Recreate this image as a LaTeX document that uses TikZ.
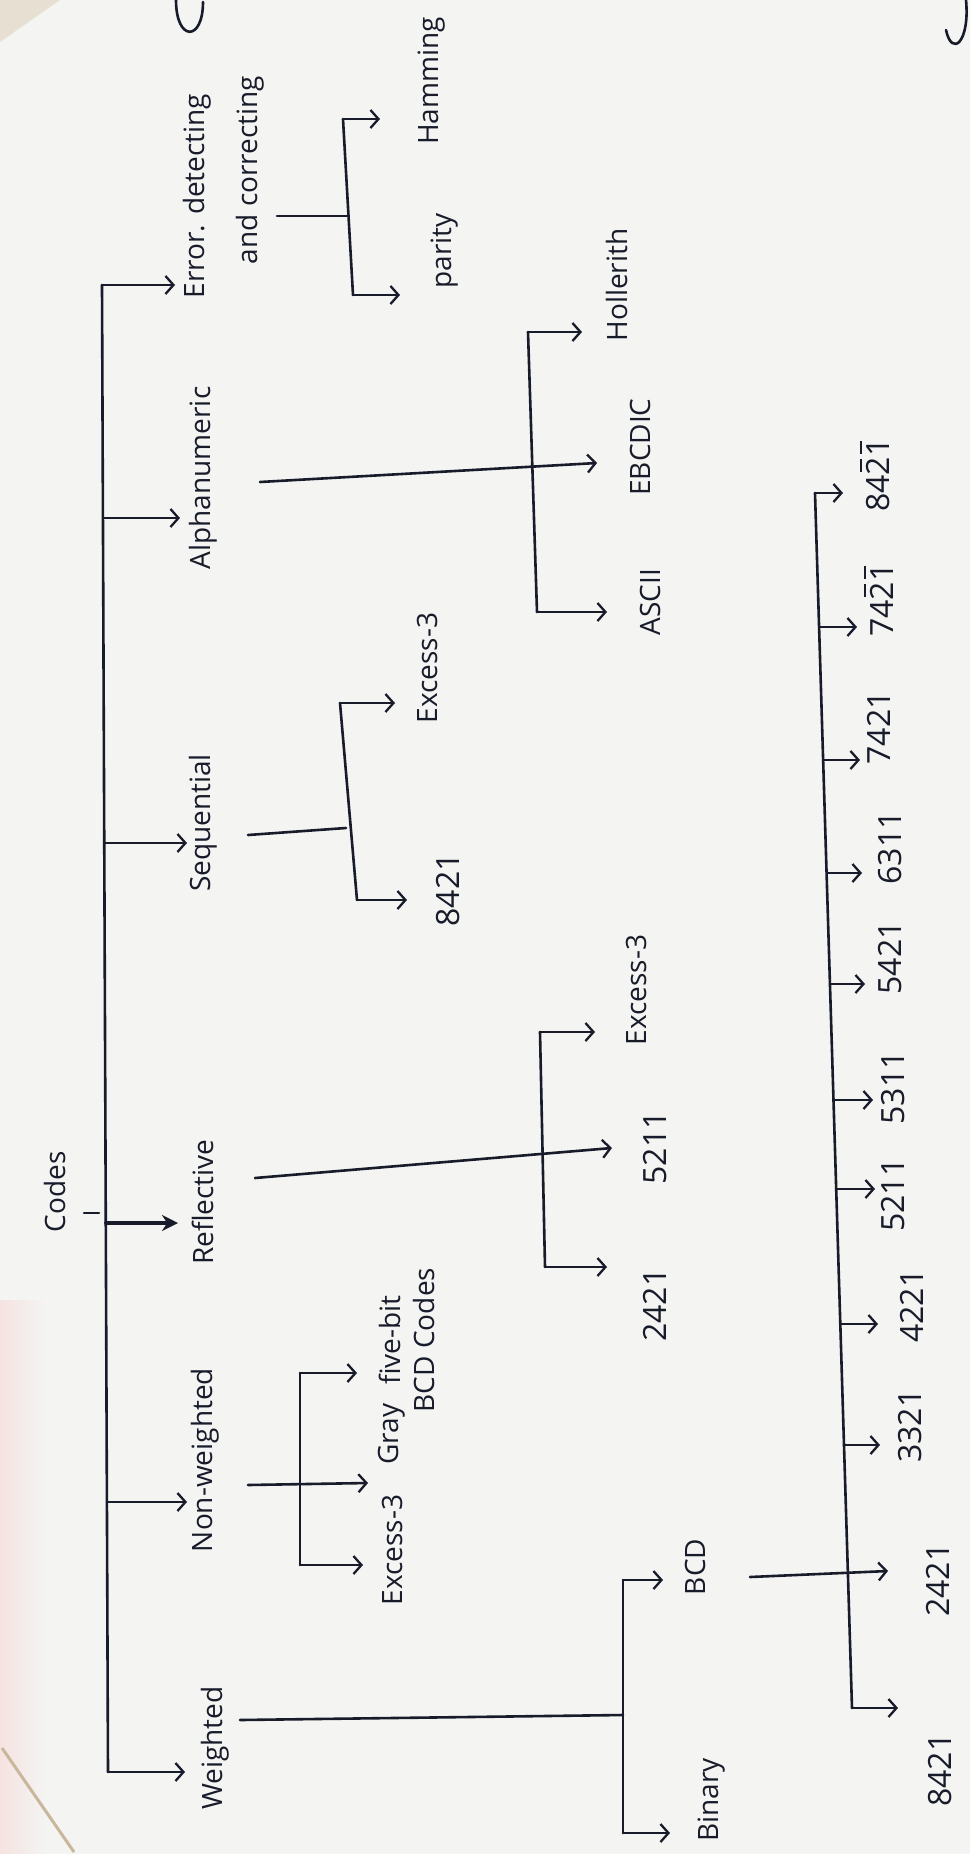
\documentclass[tikz,border=0pt]{standalone}
\usepackage{fontspec}
\setmainfont{Open Sans}
\usetikzlibrary{arrows.meta}
\definecolor{ink}{HTML}{181B2A}
\definecolor{paper}{HTML}{F4F4F2}
\definecolor{edge}{HTML}{C9B79C}
% a digit with a bar over it (negative weight)
\newcommand\negw[1]{\leavevmode\rlap{\kern0.09em\rule[0.86em]{0.4em}{1.8pt}}#1}
\begin{document}
\begin{tikzpicture}[x=1pt,y=-1pt,
  wire/.style={draw=ink,line width=2.6pt,line cap=round,line join=round},
  arr/.style={wire,-{Straight Barb[length=8pt,width=18pt,line width=2.3pt]}},
  boldarr/.style={draw=ink,line width=3.8pt,line cap=round,-{Stealth[length=16pt,width=16pt]}},
  lbl/.style={rotate=90,inner sep=0pt,text=ink,font=\fontsize{28}{34}\selectfont},
  num/.style={lbl,font=\fontsize{32}{36}\selectfont}]
% sheet of paper
\fill[paper] (0,0) rectangle (970,1854);
\useasboundingbox (0,0) rectangle (970,1854);
\fill[edge!45] (0,0) -- (60,0) -- (0,42) -- cycle;
\shade[left color=red!7!paper,right color=paper] (0,1300) rectangle (45,1854);
\draw[edge,line width=3pt] (2,1748) -- (74,1852);
% strokes of a line of writing cut off at the top edge
\draw[wire] (176,0) .. controls (176,42) and (203,42) .. (203,2);
\draw[wire] (966,0) .. controls (970,42) and (952,58) .. (946,30);

% ---------- main trunk ----------
\coordinate (jErr) at (102,285);
\coordinate (jAlp) at (103,518);
\coordinate (jSeq) at (104,843);
\coordinate (jRef) at (106,1223);
\coordinate (jNon) at (107,1502);
\coordinate (jWei) at (108,1772);
\draw[wire] (jErr) -- (jWei);

% root label and its tick
\node[lbl] (codes) at (55,1192) {Codes};
\coordinate (tkA) at (84,1213);
\coordinate (tkB) at (99,1213);
\draw[wire] (tkA) -- (tkB);

% first-level arrows
\coordinate (aErr) at (175,285);
\coordinate (aAlp) at (180,518);
\coordinate (aSeq) at (187,843);
\coordinate (aRef) at (178,1223);
\coordinate (aNon) at (187,1502);
\coordinate (aWei) at (185,1772);
\draw[arr] (jErr) -- (aErr);
\draw[arr] (jAlp) -- (aAlp);
\draw[arr] (jSeq) -- (aSeq);
\draw[boldarr] (jRef) -- (aRef);
\draw[arr] (jNon) -- (aNon);
\draw[arr] (jWei) -- (aWei);

% first-level labels
\node[lbl] (errA) at (197,196) {Error. detecting};
\node[lbl] (errB) at (250,170) {and correcting};
\node[lbl] (alpha) at (203,478) {Alphanumeric};
\node[lbl] (seq) at (203,823) {Sequential};
\node[lbl] (refl) at (203,1202) {Reflective};
\node[lbl] (nonw) at (205,1460) {Non-weighted};
\node[lbl] (wei) at (215,1748) {Weighted};

% ---------- error detecting and correcting ----------
\coordinate (eS) at (277,216);
\coordinate (eT) at (343,119);
\coordinate (eM) at (348,216);
\coordinate (eB) at (353,295);
\coordinate (aHam) at (380,119);
\coordinate (aPar) at (400,295);
\draw[wire] (eS) -- (eM);
\draw[wire] (eT) -- (eB);
\draw[arr] (eT) -- (aHam);
\draw[arr] (eB) -- (aPar);
\node[lbl] (ham) at (432,81) {Hamming};
\node[lbl] (par) at (445,251) {parity};

% ---------- alphanumeric ----------
\coordinate (lS) at (260,482);
\coordinate (lT) at (528,332);
\coordinate (lB) at (537,612);
\coordinate (aHol) at (582,332);
\coordinate (aEBC) at (597,463);
\coordinate (aASC) at (607,612);
\draw[wire] (lT) -- (lB);
\draw[arr] (lS) -- (aEBC);
\draw[arr] (lT) -- (aHol);
\draw[arr] (lB) -- (aASC);
\node[lbl] (hol) at (617,285) {Hollerith};
\node[lbl] (ebc) at (640,447) {EBCDIC};
\node[lbl] (asc) at (650,602) {ASCII};

% ---------- sequential ----------
\coordinate (sS) at (248,835);
\coordinate (sT) at (340,703);
\coordinate (sM) at (346,828);
\coordinate (sB) at (357,900);
\coordinate (aSx) at (395,703);
\coordinate (aS8) at (407,900);
\draw[wire] (sS) -- (sM);
\draw[wire] (sT) -- (sB);
\draw[arr] (sT) -- (aSx);
\draw[arr] (sB) -- (aS8);
\node[lbl] (seqx) at (427,668) {Excess-3};
\node[num] (seq8) at (448,890) {8421};

% ---------- reflective ----------
\coordinate (rS) at (255,1178);
\coordinate (rT) at (540,1032);
\coordinate (rB) at (545,1267);
\coordinate (aRx) at (595,1032);
\coordinate (aR5) at (612,1148);
\coordinate (aR2) at (607,1267);
\draw[wire] (rT) -- (rB);
\draw[arr] (rS) -- (aR5);
\draw[arr] (rT) -- (aRx);
\draw[arr] (rB) -- (aR2);
\node[lbl] (reflx) at (636,990) {Excess-3};
\node[num] (refl5) at (655,1148) {5211};
\node[num] (refl2) at (655,1305) {2421};

% ---------- non-weighted ----------
\coordinate (nS) at (248,1485);
\coordinate (nT) at (300,1373);
\coordinate (nB) at (300,1565);
\coordinate (aNf) at (357,1373);
\coordinate (aNg) at (368,1483);
\coordinate (aNx) at (363,1565);
\draw[wire] (nT) -- (nB);
\draw[arr] (nS) -- (aNg);
\draw[arr] (nT) -- (aNf);
\draw[arr] (nB) -- (aNx);
\node[lbl,align=center] (five) at (407,1340) {five-bit\\BCD Codes};
\node[lbl] (gray) at (392,1434) {Gray};
\node[lbl] (nonx) at (392,1550) {Excess-3};

% ---------- weighted ----------
\coordinate (wS) at (240,1720);
\coordinate (wT) at (623,1580);
\coordinate (wM) at (623,1715);
\coordinate (wB) at (623,1833);
\coordinate (aBCD) at (663,1580);
\coordinate (aBin) at (670,1833);
\draw[wire] (wS) -- (wM);
\draw[wire] (wT) -- (wB);
\draw[arr] (wT) -- (aBCD);
\draw[arr] (wB) -- (aBin);
\node[lbl] (bcd) at (695,1567) {BCD};
\node[lbl] (bin) at (712,1800) {Binary};

% ---------- BCD family ----------
\coordinate (b1) at (815,493);
\coordinate (b2) at (819,627);
\coordinate (b3) at (823,760);
\coordinate (b4) at (827,873);
\coordinate (b5) at (830,984);
\coordinate (b6) at (834,1100);
\coordinate (b7) at (836,1189);
\coordinate (b8) at (840,1324);
\coordinate (b9) at (844,1445);
\coordinate (b10) at (848,1572);
\coordinate (b11) at (852,1708);
\coordinate (bS) at (750,1577);
\draw[wire] (b1) -- (b11);
\coordinate (c1) at (843,493);
\coordinate (c2) at (857,627);
\coordinate (c3) at (860,760);
\coordinate (c4) at (862,873);
\coordinate (c5) at (865,984);
\coordinate (c6) at (873,1100);
\coordinate (c7) at (875,1189);
\coordinate (c8) at (878,1324);
\coordinate (c9) at (880,1445);
\coordinate (c10) at (888,1571);
\coordinate (c11) at (898,1708);
\draw[arr] (bS) -- (c10);
\foreach \i in {1,...,9,11} \draw[arr] (b\i) -- (c\i);
\node[num] (d1) at (875,475) {84\negw{2}\negw{1}};
\node[num] (d2) at (879,600) {74\negw{2}\negw{1}};
\node[num] (d3) at (879,728) {7421};
\node[num] (d4) at (890,848) {6311};
\node[num] (d5) at (890,958) {5421};
\node[num] (d6) at (893,1088) {5311};
\node[num] (d7) at (893,1195) {5211};
\node[num] (d8) at (912,1306) {4221};
\node[num] (d9) at (910,1426) {3321};
\node[num] (d10) at (938,1580) {2421};
\node[num] (d11) at (940,1770) {8421};
\end{tikzpicture}
\end{document}
